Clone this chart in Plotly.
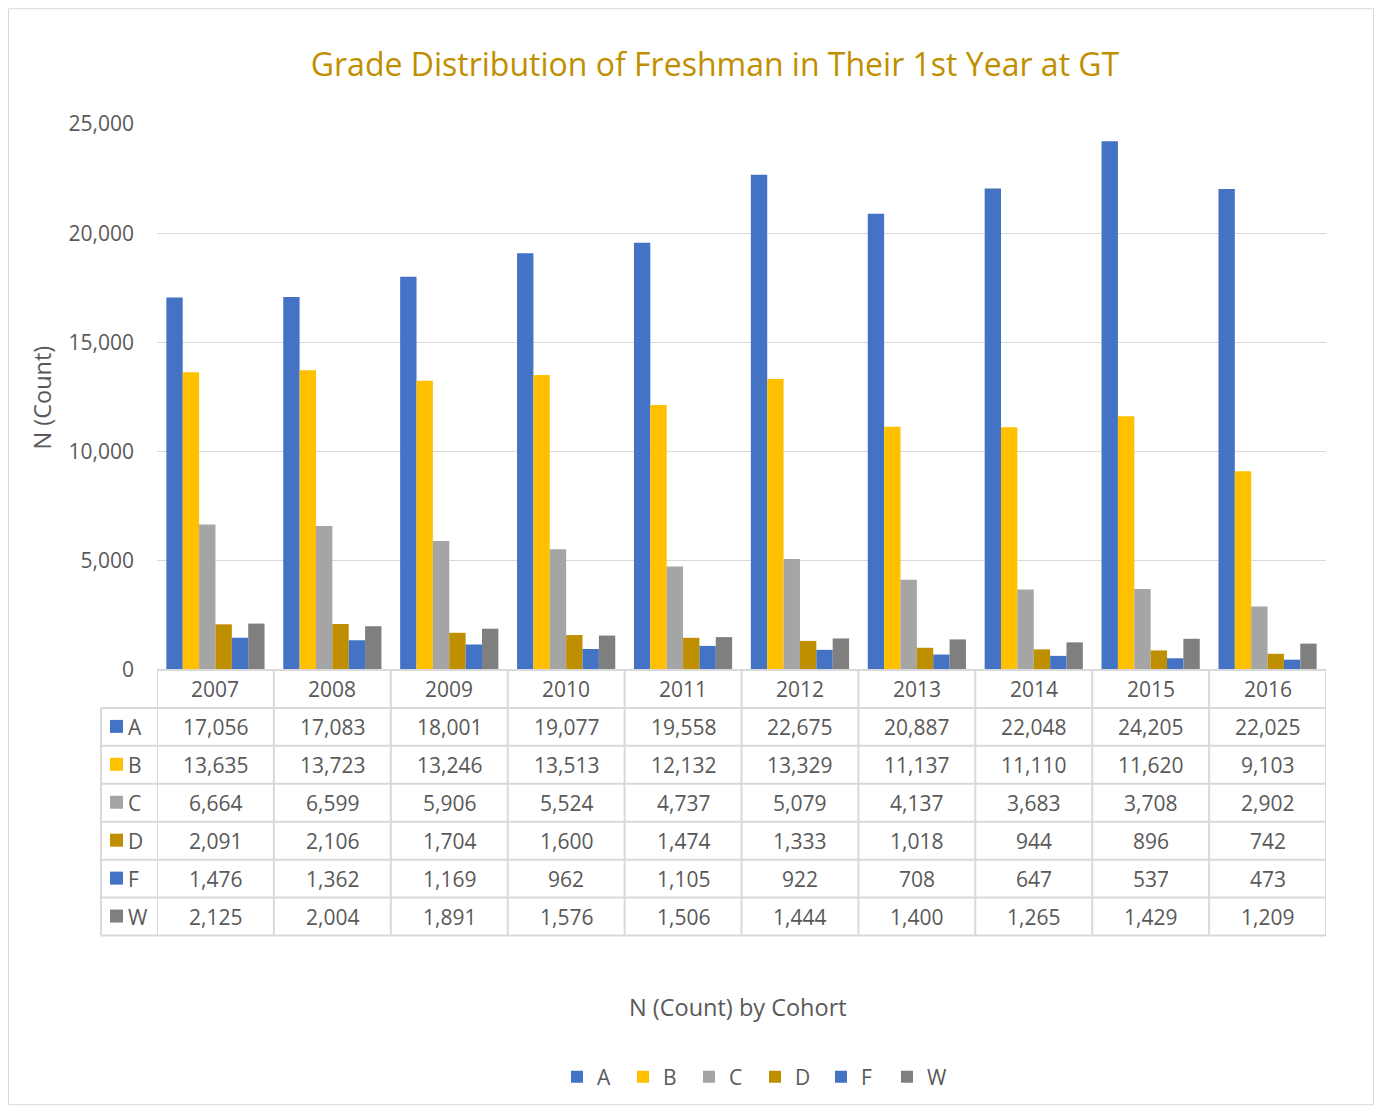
import plotly.graph_objects as go

years = ["2007", "2008", "2009", "2010", "2011", "2012", "2013", "2014", "2015", "2016"]
grades = ["A", "B", "C", "D", "F", "W"]
A = [17056, 17083, 18001, 19077, 19558, 22675, 20887, 22048, 24205, 22025]
B = [13635, 13723, 13246, 13513, 12132, 13329, 11137, 11110, 11620, 9103]
C = [6664, 6599, 5906, 5524, 4737, 5079, 4137, 3683, 3708, 2902]
D = [2091, 2106, 1704, 1600, 1474, 1333, 1018, 944, 896, 742]
F = [1476, 1362, 1169, 962, 1105, 922, 708, 647, 537, 473]
W = [2125, 2004, 1891, 1576, 1506, 1444, 1400, 1265, 1429, 1209]
series = [A, B, C, D, F, W]
colors = ["#4472C4", "#FFC000", "#A5A5A5", "#BF8F00", "#4472C4", "#7F7F7F"]

FONT = "Open Sans"
TXT = "#595959"
GRID = "#D9D9D9"

# page-pixel geometry of the plot area (page offset of 8px from body margin)
PL, PR, PT, PB = 157, 1326, 124, 671
PW, PH = PR - PL, PB - PT

def px(x):
    return (x - PL) / PW

def py(y):
    return (PB - y) / PH

fig = go.Figure()
for g, vals, col in zip(grades, series, colors):
    fig.add_trace(go.Bar(name=g, x=years, y=vals, marker=dict(color=col, line=dict(width=0))))

shapes = []
annotations = []

row_lines = [671, 709, 747, 785, 823, 861, 899, 937]
row_centers = [728, 766, 804, 842, 880, 918]

# horizontal table lines
shapes.append(dict(type="line", xref="paper", yref="paper", x0=0, x1=1, y0=py(671), y1=py(671),
                   line=dict(color=GRID, width=2)))
for yl in row_lines[1:]:
    shapes.append(dict(type="line", xref="paper", yref="paper", x0=px(101), x1=1, y0=py(yl), y1=py(yl),
                       line=dict(color=GRID, width=2)))
# vertical table lines
for i in range(len(years) + 1):
    shapes.append(dict(type="line", xref="x", yref="paper", x0=i - 0.5, x1=i - 0.5, y0=py(671), y1=py(937),
                       line=dict(color=GRID, width=2)))
shapes.append(dict(type="line", xref="paper", yref="paper", x0=px(101), x1=px(101), y0=py(709), y1=py(937),
                   line=dict(color=GRID, width=2)))

# chart border
shapes.append(dict(type="rect", xref="paper", yref="paper", x0=px(8.5), x1=px(1373.5), y0=py(8.5), y1=py(1106.5),
                   line=dict(color=GRID, width=1), fillcolor="rgba(0,0,0,0)", layer="below"))

cell_font = dict(family=FONT, size=21, color=TXT)

# header years
for i, yr in enumerate(years):
    annotations.append(dict(x=i, xref="x", y=py(690), yref="paper", text=yr, showarrow=False,
                            xanchor="center", yanchor="middle", font=cell_font))

# table rows
for g, vals, col, yc in zip(grades, series, colors, row_centers):
    shapes.append(dict(type="rect", xref="paper", yref="paper", x0=px(110), x1=px(123), y0=py(yc - 7), y1=py(yc + 6),
                       fillcolor=col, line=dict(width=0)))
    annotations.append(dict(x=px(126), xref="paper", y=py(yc), yref="paper", text=g, showarrow=False,
                            xanchor="left", yanchor="middle", font=cell_font))
    for i, v in enumerate(vals):
        annotations.append(dict(x=i, xref="x", y=py(yc), yref="paper", text=f"{v:,}", showarrow=False,
                                xanchor="center", yanchor="middle", font=cell_font))

# axis titles
title_font = dict(family=FONT, size=23.5, color=TXT)
annotations.append(dict(x=px(42), xref="paper", y=py(398), yref="paper", text="N (Count)", textangle=-90,
                        xanchor="center", yanchor="middle", showarrow=False, font=title_font))
annotations.append(dict(x=px(738), xref="paper", y=py(1009), yref="paper", text="N (Count) by Cohort",
                        xanchor="center", yanchor="middle", showarrow=False, font=title_font))

fig.update_layout(
    width=1366, height=1099,
    margin=dict(l=PL - 8, r=1374 - PR, t=PT - 8, b=1107 - PB, pad=0),
    paper_bgcolor="white", plot_bgcolor="white",
    title=dict(text="Grade Distribution of Freshman in Their 1st Year at GT", x=px(715), xref="paper",
               xanchor="center", y=1 - (65 - 8) / 1099, yref="container", yanchor="middle",
               font=dict(family=FONT, size=32, color="#BF8F00")),
    barmode="group", bargap=0.16, bargroupgap=0,
    showlegend=True,
    legend=dict(orientation="h", x=px(755), xanchor="center", y=py(1077), yanchor="middle",
                font=dict(family=FONT, size=21, color=TXT), itemwidth=30, entrywidth=21,
                entrywidthmode="pixels", bgcolor="rgba(0,0,0,0)"),
    xaxis=dict(type="category", range=[-0.5, 9.5], showticklabels=False, showgrid=False, showline=False,
               zeroline=False, ticks=""),
    yaxis=dict(range=[0, 25000], dtick=5000, tickformat=",", showgrid=True, gridcolor=GRID, gridwidth=1,
               zeroline=False, showline=False, ticks="", ticklabelstandoff=22,
               tickfont=dict(family=FONT, size=21, color=TXT)),
    shapes=shapes, annotations=annotations,
)

fig.write_html("out.html")
